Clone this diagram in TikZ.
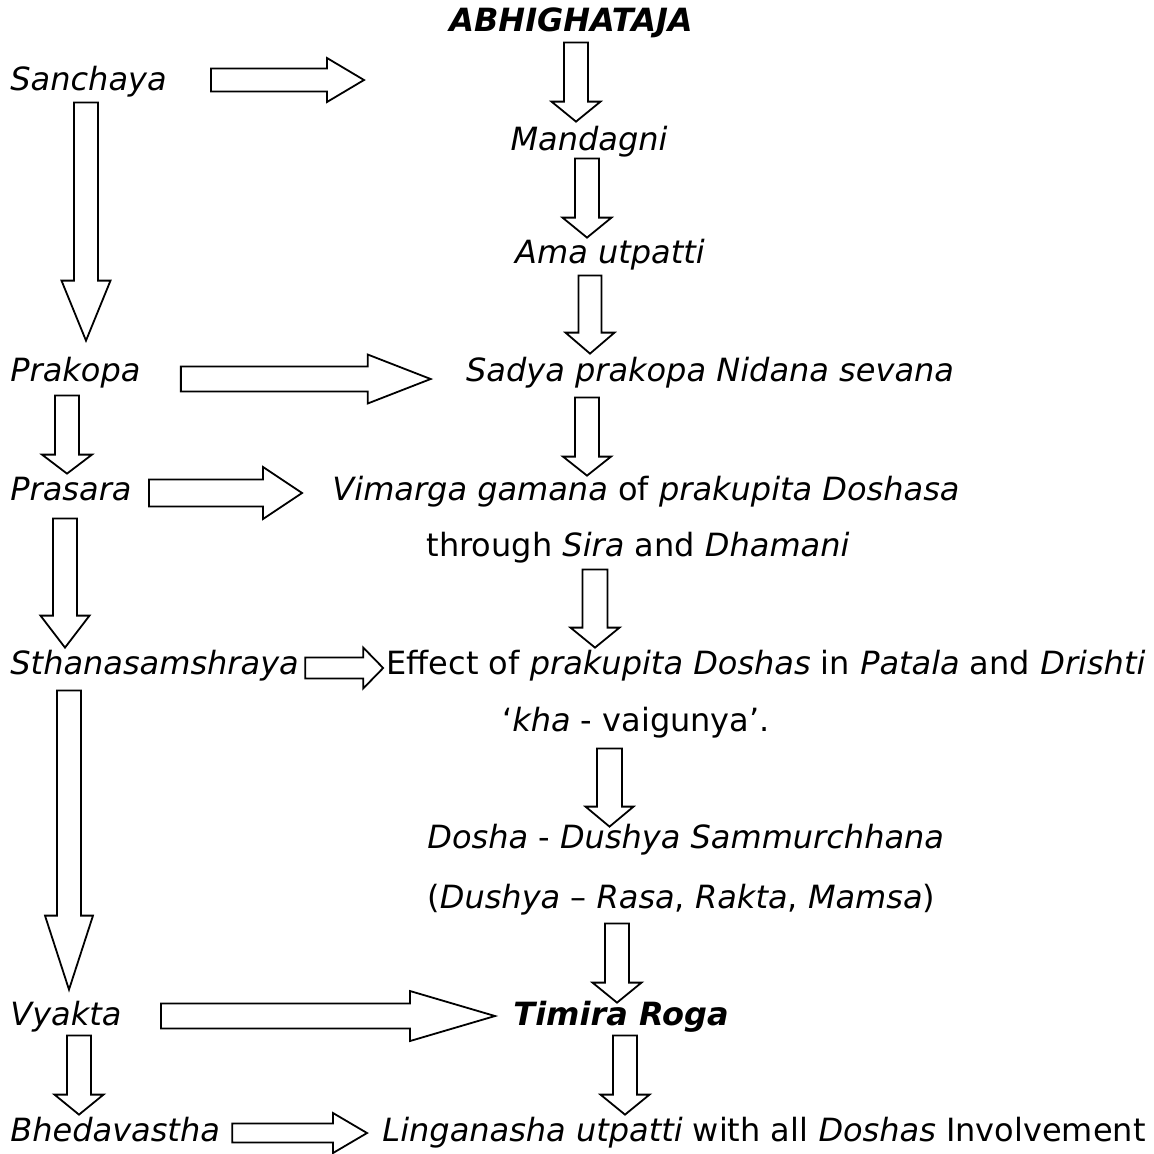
\documentclass[tikz,border=0pt]{standalone}
\usepackage{fontspec}
\setmainfont{DejaVu Sans}
\usetikzlibrary{calc}

\tikzset{
  lbl/.style={inner sep=0pt, text height=11.5pt, text depth=3.5pt,
              font=\fontsize{16}{19}\selectfont},
  fatarrow/.style={draw=black, line width=0.9pt, fill=white, line join=miter}
}

% hollow block arrows: #1 from, #2 to, #3 half shaft, #4 half head, #5 head length
\newcommand{\downfat}[5]{%
  \draw[fatarrow] let \p1=#1, \p2=#2 in
    (\x1-#3,\y1) -- (\x1+#3,\y1) -- (\x1+#3,\y2+#5) -- (\x1+#4,\y2+#5)
    -- (\x1,\y2) -- (\x1-#4,\y2+#5) -- (\x1-#3,\y2+#5) -- cycle;}
\newcommand{\rightfat}[5]{%
  \draw[fatarrow] let \p1=#1, \p2=#2 in
    (\x1,\y1-#3) -- (\x2-#5,\y1-#3) -- (\x2-#5,\y1-#4) -- (\x2,\y1)
    -- (\x2-#5,\y1+#4) -- (\x2-#5,\y1+#3) -- (\x1,\y1+#3) -- cycle;}

\begin{document}
\begin{tikzpicture}[x=0.5pt,y=-0.5pt]
\useasboundingbox (0,0) rectangle (1154,1153);

% left column
\node[lbl,anchor=west] (sanchaya) at (10,82)   {\textit{Sanchaya}};
\node[lbl,anchor=west] (prakopa)  at (10,373)  {\textit{Prakopa}};
\node[lbl,anchor=west] (prasara)  at (10,492)  {\textit{Prasara}};
\node[lbl,anchor=west] (sthana)   at (10,666)  {\textit{Sthanasamshraya}};
\node[lbl,anchor=west] (vyakta)   at (10,1017) {\textit{Vyakta}};
\node[lbl,anchor=west] (bhed)     at (10,1133) {\textit{Bhedavastha}};

% right column
\node[lbl] (abhi)    at (571,23)  {\textbf{\textit{ABHIGHATAJA}}};
\node[lbl] (mand)    at (589,142) {\textit{Mandagni}};
\node[lbl] (ama)     at (610,255) {\textit{Ama utpatti}};
\node[lbl] (sadya)   at (710,373) {\textit{Sadya prakopa Nidana sevana}};
\node[lbl] (vimarga) at (646,492) {\textit{Vimarga gamana} of \textit{prakupita Doshasa}};
\node[lbl] (through) at (638,548) {through \textit{Sira} and \textit{Dhamani}};
\node[lbl] (effect)  at (766,666) {Effect of \textit{prakupita Doshas} in \textit{Patala} and \textit{Drishti}};
\node[lbl] (kha)     at (636,723) {‘\textit{kha} - vaigunya’.};
\node[lbl,anchor=west] (dosha)  at (427,840) {\textit{Dosha} - \textit{Dushya Sammurchhana}};
\node[lbl,anchor=west] (dushya) at (427,900) {(\textit{Dushya} – \textit{Rasa}, \textit{Rakta}, \textit{Mamsa})};
\node[lbl] (timira)  at (621,1017) {\textbf{\textit{Timira Roga}}};
\node[lbl] (ling)    at (764,1133) {\textit{Linganasha utpatti} with all \textit{Doshas} Involvement};

\coordinate (sanend) at (364,80);

% down arrows, right
\downfat{([xshift=2.5pt,yshift=-2pt]abhi.south)}{([yshift=2.5pt]mand.north)}{6pt}{12.25pt}{10pt}
\downfat{([xshift=-1pt,yshift=-0.5pt]mand.south)}{([yshift=1pt]ama.north)}{6pt}{12.25pt}{10pt}
\downfat{([xshift=-10pt,yshift=-2.5pt]ama.south)}{([yshift=2pt]sadya.north)}{5.75pt}{12.25pt}{10.5pt}
\downfat{([xshift=-61.5pt,yshift=-4.5pt]sadya.south)}{([yshift=0.5pt]vimarga.north)}{6pt}{12pt}{9.5pt}
\downfat{([xshift=-21.5pt,yshift=-3pt]through.south)}{([yshift=1.5pt]effect.north)}{6.25pt}{12.25pt}{10pt}
\downfat{([xshift=-13.25pt,yshift=-5pt]kha.south)}{([yshift=-1pt]dosha.north)}{6.25pt}{12pt}{10pt}
\downfat{([xshift=95pt,yshift=-4pt]dushya.south west)}{([yshift=-0.5pt]timira.north)}{6pt}{12.25pt}{10pt}
\downfat{([xshift=2pt,yshift=-1.5pt]timira.south)}{([yshift=1.5pt]ling.north)}{6pt}{12.25pt}{10pt}

% down arrows, left
\downfat{([xshift=38pt,yshift=-2.5pt]sanchaya.south west)}{([yshift=8.5pt]prakopa.north)}{6pt}{12.25pt}{30pt}
\downfat{([xshift=28.5pt,yshift=-3.5pt]prakopa.south west)}{([yshift=1.5pt]prasara.north)}{6pt}{12.5pt}{9.5pt}
\downfat{([xshift=27.5pt,yshift=-5.5pt]prasara.south west)}{([yshift=1.5pt]sthana.north)}{6pt}{12.25pt}{16pt}
\downfat{([xshift=29.5pt,yshift=-4.5pt]sthana.south west)}{([yshift=6pt]vyakta.north)}{6pt}{12pt}{37pt}
\downfat{([xshift=34.5pt,yshift=-1.5pt]vyakta.south west)}{([yshift=1.5pt]bhed.north)}{6pt}{12.25pt}{10pt}

% right arrows
\rightfat{([xshift=22pt,yshift=1pt]sanchaya.east)}{(sanend)}{5.75pt}{11pt}{18.5pt}
\rightfat{([xshift=20pt,yshift=-3pt]prakopa.east)}{([xshift=-17.5pt]sadya.west)}{6.25pt}{12.25pt}{31.5pt}
\rightfat{([xshift=8.5pt,yshift=-0.5pt]prasara.east)}{([xshift=-15pt]vimarga.west)}{6.75pt}{13pt}{19.5pt}
\rightfat{([xshift=3pt,yshift=-1pt]sthana.east)}{([xshift=-1.5pt]effect.west)}{5.25pt}{10.25pt}{10pt}
\rightfat{([xshift=19.5pt,yshift=0.5pt]vyakta.east)}{([xshift=-9pt]timira.west)}{6.25pt}{12.5pt}{42.5pt}
\rightfat{([xshift=6pt]bhed.east)}{([xshift=-7.5pt]ling.west)}{4.75pt}{10pt}{17pt}

\end{tikzpicture}
\end{document}
